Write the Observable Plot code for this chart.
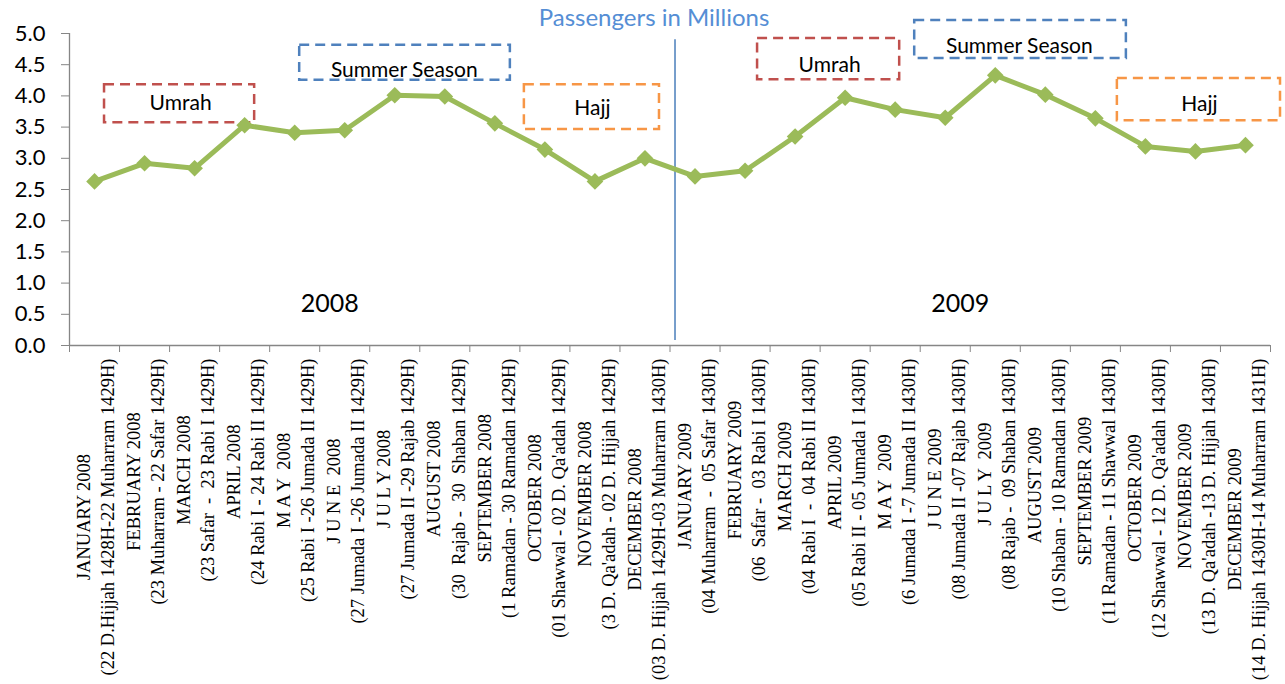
<!DOCTYPE html>
<html>
<head>
<meta charset="utf-8">
<script src="https://cdn.jsdelivr.net/npm/d3@7"></script>
<script src="https://cdn.jsdelivr.net/npm/@observablehq/plot@0.6"></script>
<style>
  html, body { margin: 0; padding: 0; background: white; }
  #chart svg text { white-space: pre; }
</style>
</head>
<body>
<div id="chart"></div>
<script>
// ---- Data ----
const monthNames = [
  "JANUARY 2008", "FEBRUARY 2008", "MARCH 2008", "APRIL 2008", "M A Y  2008", "J U N E  2008",
  "J U L Y 2008", "AUGUST 2008", "SEPTEMBER 2008", "OCTOBER 2008", "NOVEMBER 2008", "DECEMBER 2008",
  "JANUARY 2009", "FEBRUARY 2009", "MARCH 2009", "APRIL 2009", "M A Y  2009", "J U N E 2009",
  "J U L Y  2009", "AUGUST 2009", "SEPTEMBER 2009", "OCTOBER 2009", "NOVEMBER 2009", "DECEMBER 2009"
];
const hijriRanges = [
  "(22 D.Hijjah 1428H-22 Muharram 1429H)", "(23 Muharram - 22 Safar 1429H)", "(23 Safar  -  23 Rabi I 1429H)",
  "(24 Rabi I - 24 Rabi II 1429H)", "(25 Rabi I -26 Jumada II 1429H)", "(27 Jumada I -26 Jumada II 1429H)",
  "(27 Jumada II -29 Rajab 1429H)", "(30  Rajab -  30  Shaban 1429H)", "(1 Ramadan - 30 Ramadan 1429H)",
  "(01 Shawwal - 02 D. Qa'adah 1429H)", "(3 D. Qa'adah - 02 D. Hijjah 1429H)", "(03 D. Hijjah 1429H-03 Muharram 1430H)",
  "(04 Muharram  -  05 Safar 1430H)", "(06  Safar -  03 Rabi I 1430H)", "(04 Rabi I  -  04 Rabi II 1430H)",
  "(05 Rabi II - 05 Jumada I 1430H)", "(6 Jumada I -7 Jumada II 1430H)", "(08 Jumada II -07 Rajab 1430H)",
  "(08 Rajab -  09 Shaban 1430H)", "(10 Shaban - 10 Ramadan 1430H)", "(11 Ramadan - 11 Shawwal 1430H)",
  "(12 Shawwal - 12 D. Qa'adah 1430H)", "(13 D. Qa'adah -13 D. Hijjah 1430H)", "(14 D. Hijjah 1430H-14 Muharram 1431H)"
];
const passengers = [
  2.63, 2.92, 2.84, 3.53, 3.41, 3.45, 4.01, 3.99, 3.56, 3.14, 2.63, 3.00,
  2.71, 2.80, 3.35, 3.97, 3.78, 3.65, 4.33, 4.02, 3.64, 3.19, 3.11, 3.21
];
const yTicks = [0, 0.5, 1, 1.5, 2, 2.5, 3, 3.5, 4, 4.5, 5];

// annotation boxes (in data units: x = month index, y = millions)
const boxLabels = ["Umrah", "Summer Season", "Hajj", "Umrah", "Summer Season", "Hajj"];
const boxKinds  = ["umrah", "summer", "hajj", "umrah", "summer", "hajj"];
const boxX1 = [0.70, 4.60, 9.09, 13.75, 16.89, 20.94];
const boxX2 = [3.70, 8.81, 11.79, 16.59, 21.12, 24.20];
const boxY1 = [3.57, 4.25, 3.46, 4.26, 4.60, 3.60];
const boxY2 = [4.18, 4.81, 4.18, 4.92, 5.21, 4.28];
const boxTextX = [2.22, 6.69, 10.45, 15.19, 18.98, 22.58];
const boxTextY = [3.88, 4.41, 3.80, 4.49, 4.79, 3.86];

const yearLabels = ["2008", "2009"];
const yearX = [5.2, 17.8];
const yearY = [0.67, 0.67];

const dividerX = 12.1;
const dividerY = [0.08, 4.9];
const title = "Passengers in Millions";

// ---- Build tables ----
const months = monthNames.map((m, i) => ({i, label: m + "\n" + hijriRanges[i], value: passengers[i]}));
const boxes = boxLabels.map((t, i) => ({
  text: t, kind: boxKinds[i], x1: boxX1[i], x2: boxX2[i], y1: boxY1[i], y2: boxY2[i], tx: boxTextX[i], ty: boxTextY[i]
}));
const years = yearLabels.map((t, i) => ({text: t, x: yearX[i], y: yearY[i]}));
const boxColor = {umrah: "#c0504d", summer: "#4f81bd", hajj: "#f79646"};
const axisGray = "#868686";

const chart = Plot.plot({
  width: 1285,
  height: 684,
  marginLeft: 69,
  marginRight: 15,
  marginTop: 33,
  marginBottom: 339,
  style: {fontFamily: "Lato, 'Open Sans', sans-serif", fontSize: "21px", color: "#000", background: "white", overflow: "visible"},
  x: {type: "linear", domain: [0, 24], axis: null},
  y: {domain: [0, 5], axis: null},
  marks: [
    // axes
    Plot.ruleX([0], {y1: 0, y2: 5, stroke: axisGray, strokeWidth: 1.3}),
    Plot.ruleY([0], {stroke: axisGray, strokeWidth: 1.3}),
    Plot.axisY(yTicks, {anchor: "left", tickSize: 8, tickPadding: 16, stroke: axisGray, tickFormat: d3.format(".1f"), fill: "#000", fontSize: 22}),
    Plot.axisX(d3.range(0, 25), {anchor: "bottom", tickSize: 7, tickFormat: () => "", stroke: axisGray}),
    // month labels (repositioned after render)
    Plot.text(months, {
      x: d => d.i + 0.5, frameAnchor: "bottom", text: "label", rotate: -90,
      textAnchor: "middle", lineAnchor: "middle", lineHeight: 1.3,
      fontFamily: "'Liberation Serif', 'Times New Roman', serif", fontSize: 18.5, fill: "#000"
    }),
    // divider
    Plot.ruleX([dividerX], {y1: dividerY[0], y2: dividerY[1], stroke: "#4a7ebb", strokeWidth: 1.5}),
    // annotation boxes
    Plot.rect(boxes, {x1: "x1", x2: "x2", y1: "y1", y2: "y2", fill: "none", stroke: d => boxColor[d.kind], strokeWidth: 2.5, strokeDasharray: "10,6"}),
    Plot.text(boxes, {x: "tx", y: "ty", text: "text", fill: "#000", fontSize: 21}),
    // year labels
    Plot.text(years, {x: "x", y: "y", text: "text", fill: "#000", fontSize: 25}),
    // series
    Plot.line(months, {x: d => d.i + 0.5, y: "value", stroke: "#9bbb59", strokeWidth: 5}),
    Plot.dot(months, {x: d => d.i + 0.5, y: "value", symbol: "diamond2", r: 7.5, fill: "#9bbb59", stroke: "none"}),
    // title
    Plot.text([title], {frameAnchor: "top", lineAnchor: "middle", dy: -15, dx: -16, text: d => d, fill: "#558ed5", fontSize: 24})
  ]
});

document.getElementById("chart").append(chart);

// Position month labels: block top just below axis, lines centred on each other
const xDom = [0, 24], xRange = [69, 1285 - 15];
const xPix = v => xRange[0] + (v - xDom[0]) / (xDom[1] - xDom[0]) * (xRange[1] - xRange[0]);
const top0 = 684 - 339 + 13;
chart.querySelectorAll("text").forEach(t => {
  const first = t.querySelector("tspan");
  if (!first) return;
  const i = monthNames.indexOf(first.textContent);
  if (i < 0) return;
  const w = t.getBBox().width;
  t.setAttribute("transform", `translate(${xPix(i + 0.5)},${top0 + w / 2}) rotate(-90)`);
});
</script>
</body>
</html>
